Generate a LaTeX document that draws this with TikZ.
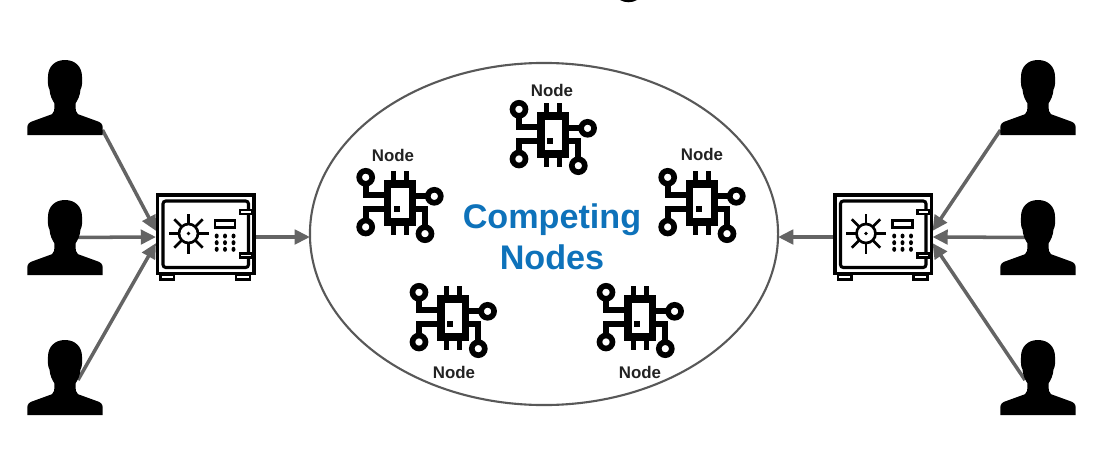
\documentclass[tikz,border=0pt]{standalone}
\usepackage{fontspec}
\setmainfont{Liberation Sans}
\usepackage{tikz}
\definecolor{arrowGray}{RGB}{100,100,100}
\definecolor{ringGray}{RGB}{88,88,88}
\definecolor{titleBlue}{RGB}{14,114,186}
\definecolor{labelInk}{RGB}{34,34,34}
\usetikzlibrary{calc,arrows.meta,shapes.geometric}

\begin{document}
\begin{tikzpicture}[
  x=0.025cm,
  y=-0.025cm,
  every node/.style={align=center, inner sep=0pt, outer sep=0pt},
  usercell/.style={minimum width=1.875cm, minimum height=1.875cm},
  safecell/.style={minimum width=2.475cm, minimum height=2.15cm},
  chipcell/.style={minimum width=2.2cm, minimum height=1.9cm},
  ringnode/.style={ellipse, draw=ringGray, line width=1.5pt, minimum width=11.7cm, minimum height=8.55cm},
  nodelabel/.style={font=\bfseries\fontsize{12}{14}\selectfont, text=labelInk},
  headline/.style={font=\bfseries\fontsize{24.3}{29}\selectfont, text=titleBlue},
  arr/.style={-{Triangle[length=0.38cm,width=0.36cm]}, line width=2.5pt, draw=arrowGray},
  pics/usericon/.style={code={
    \fill[black] (-37.7,37.7) -- (-37.7,30) .. controls (-37.7,26) and (-35,24.5) .. (-31.7,23.5)
      -- (-13,16.7) .. controls (-11,15.5) and (-10.5,13) .. (-10.5,6)
      .. controls (-13,2) and (-15,-2) .. (-15.5,-8) .. controls (-17.5,-11) and (-17,-16) .. (-17,-20.8)
      .. controls (-17,-31) and (-10,-37.5) .. (0,-37.5)
      .. controls (10,-37.5) and (17,-31) .. (17,-20.8)
      .. controls (17,-16) and (17.5,-11) .. (15.5,-8)
      .. controls (15,-2) and (13,2) .. (10.5,6)
      .. controls (10.5,13) and (11,15.5) .. (13,16.7)
      -- (31.7,23.5) .. controls (35,24.5) and (37.7,26) .. (37.7,30) -- (37.7,37.7) -- cycle;
  }},
  pics/safeicon/.style={code={
    \draw[line width=2.2pt] (-48,-42) rectangle (48.5,36.5);
    \draw[line width=2.2pt, rounded corners=2pt] (-42.5,-36) rectangle (43,30.5);
    \draw[line width=1.8pt, fill=white] (34.5,-27) rectangle (46.5,-23);
    \draw[line width=1.8pt, fill=white] (34.5,16.5) rectangle (46.5,20.5);
    \draw[line width=1.8pt] (-45,37.5) rectangle (-31.5,42.5);
    \draw[line width=1.8pt] (30.5,37.5) rectangle (44.5,42.5);
    \draw[line width=1.9pt] (-17,-3.5) circle (9.5);
    \fill (-17,-3.5) circle (1.8);
    \foreach \spoke in {0,45,...,315}
      \draw[line width=1.9pt] ($(-17,-3.5)+(\spoke:9.5)$) -- ($(-17,-3.5)+(\spoke:20)$);
    \draw[line width=2pt] (9.5,-16.7) rectangle (29.5,-9.7);
    \foreach \keyx in {11.2,19.5,28}
      \foreach \keyy in {-1,5.7,12.3}
        \fill (\keyx,\keyy) ellipse (2 and 2.5);
  }},
  pics/chipicon/.style={code={
    \draw[line width=5pt] (-12.3,-19) rectangle (12.3,19);
    \fill (-6.3,2.7) rectangle (-0.3,8.7);
    \draw[line width=3.6pt] (-6.5,-32) -- (-6.5,-19);
    \draw[line width=3.6pt] (6.5,-32) -- (6.5,-19);
    \draw[line width=3.6pt] (-6.5,19) -- (-6.5,32);
    \draw[line width=3.6pt] (6.5,19) -- (6.5,32);
    \draw[line width=4.4pt] (-34.3,-18) -- (-34.3,-8) -- (-12,-8);
    \draw[line width=4.4pt] (27.5,-6.7) -- (12,-6.7);
    \draw[line width=4.4pt] (-34.3,17.5) -- (-34.3,6) -- (-12,6);
    \draw[line width=4.4pt] (25,24) -- (25,6) -- (12,6);
    \draw[line width=4pt] (-34.3,-25.7) circle (6.5);
    \draw[line width=4pt] (34.3,-6.7) circle (6.5);
    \draw[line width=4pt] (-34.3,24) circle (6.5);
    \draw[line width=4pt] (25,30.7) circle (6.5);
  }}
]
\useasboundingbox (0,0) rectangle (1099,454);

\fill[black] (620,0) .. controls (625,3) and (632,3) .. (637,0) -- cycle;

\node[ringnode] (ring) at (544,234) {};
\node[usercell] (usrA) at (65,97.5) {};
\node[usercell] (usrB) at (65,237.5) {};
\node[usercell] (usrC) at (65,377.5) {};
\node[usercell] (usrD) at (1038,97.5) {};
\node[usercell] (usrE) at (1038,237.5) {};
\node[usercell] (usrF) at (1038,377.5) {};
\node[safecell] (safeL) at (205.5,237) {};
\node[safecell] (safeR) at (883,237) {};
\coordinate (tailC) at (78,380);
\coordinate (tailF) at (1025,380);

% connectors go first, the silhouettes cover their tails
\draw[arr] (usrA.south east) ++(0,-5) -- (safeL.173);
\draw[arr] (usrB.center) -- (safeL.west);
\draw[arr] (tailC) -- (safeL.187);
\draw[arr] (usrD.south west) ++(0,-5) -- (safeR.7);
\draw[arr] (usrE.center) -- (safeR.east);
\draw[arr] (tailF) -- (safeR.353);
\draw[arr] (safeL.east) -- (ring.west |- safeL);
\draw[arr] (safeR.west) -- (ring.east |- safeR);

\pic at (usrA) {usericon};
\pic at (usrB) {usericon};
\pic at (usrC) {usericon};
\pic at (usrD) {usericon};
\pic at (usrE) {usericon};
\pic at (usrF) {usericon};
\pic at (safeL) {safeicon};
\pic at (safeR) {safeicon};

\node[chipcell] (chipTop) at (553.3,135) {};
\node[chipcell] (chipWest) at (400,203) {};
\node[chipcell] (chipEast) at (702,203) {};
\node[chipcell] (chipSouthW) at (453.3,318) {};
\node[chipcell] (chipSouthE) at (640.3,318) {};
\pic at (chipTop) {chipicon};
\pic at (chipWest) {chipicon};
\pic at (chipEast) {chipicon};
\pic at (chipSouthW) {chipicon};
\pic at (chipSouthE) {chipicon};

\node[nodelabel] (lblTop) at (552,90) {Node};
\node[nodelabel] (lblWest) at (393,155) {Node};
\node[nodelabel] (lblEast) at (702,154) {Node};
\node[nodelabel] (lblSouthW) at (454,372) {Node};
\node[nodelabel] (lblSouthE) at (640,372) {Node};
\node[headline] (title) at (552,237) {Competing\\Nodes};
\end{tikzpicture}
\end{document}
